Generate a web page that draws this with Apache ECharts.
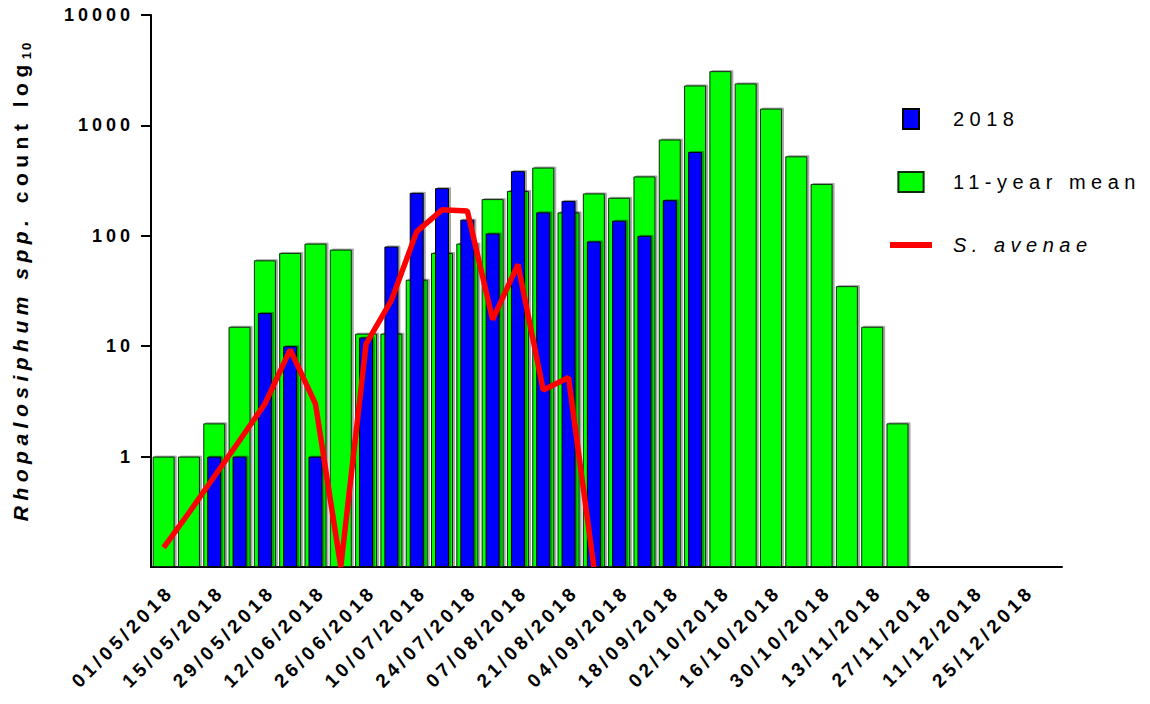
<!DOCTYPE html>
<html>
<head>
<meta charset="utf-8">
<script src="https://cdn.jsdelivr.net/npm/echarts@6/dist/echarts.min.js"></script>
<style>
html, body { margin: 0; padding: 0; background: #fff; }
#main { width: 1150px; height: 704px; }
/* wide letter spacing as in the original figure */
#main text[style*="13px"] { letter-spacing: 2px; }
#main text[style*="18px"] { letter-spacing: 4px; }
#main text[style*="19px"] { letter-spacing: 4px; }
#main text[style*="20px"] { letter-spacing: 5.5px; }
#main text[style*="21px"] { letter-spacing: 5.5px; }
</style>
</head>
<body>
<div id="main"></div>
<script>
// weekly trap dates
var weeks = ['01/05/2018', '08/05/2018', '15/05/2018', '22/05/2018', '29/05/2018', '05/06/2018',
	'12/06/2018', '19/06/2018', '26/06/2018', '03/07/2018', '10/07/2018', '17/07/2018',
	'24/07/2018', '31/07/2018', '07/08/2018', '14/08/2018', '21/08/2018', '28/08/2018',
	'04/09/2018', '11/09/2018', '18/09/2018', '25/09/2018', '02/10/2018', '09/10/2018',
	'16/10/2018', '23/10/2018', '30/10/2018', '06/11/2018', '13/11/2018', '20/11/2018',
	'27/11/2018', '04/12/2018', '11/12/2018', '18/12/2018', '25/12/2018', '01/01/2019'];

var mean11 = [1, 1, 2, 15, 60, 70, 85, 75, 13, 13, 40, 70, 85, 215, 255, 415, 163, 242,
	221, 345, 745, 2300, 3100, 2400, 1420, 525, 295, 35, 15, 2];

var count2018 = [null, null, 1, 1, 20, 10, 1, null, 12, 80, 245, 270, 140, 105, 385, 163,
	207, 89, 137, 100, 210, 575];

var avenae = [0.15, 0.31, 0.66, 1.4, 3, 9.3, 3, 0.1, 10.5, 26, 109, 172, 168, 17.4, 55,
	4, 5.2, 0.1];

var fontName = 'Liberation Sans';

// text widths have to include the css letter spacing
var spacing = { 13: 2, 18: 4, 19: 4, 20: 5.5, 21: 5.5 };
var measureCtx = document.createElement('canvas').getContext('2d');
echarts.setPlatformAPI({
	measureText: function(text, font) {
		measureCtx.font = font || '12px sans-serif';
		var w = measureCtx.measureText(text).width;
		var m = /(\d+)px/.exec(font || '');
		var s = m ? (spacing[+m[1]] || 0) : 0;
		if (text === '\u56fd') {
			s = 0;
		}
		return { width: w + text.length * s };
	}
});

var chart = echarts.init(document.getElementById('main'), null, { renderer: 'svg' });

var option = {
	animation: false,
	backgroundColor: '#fff',
	textStyle: { fontFamily: fontName },
	grid: {
		left: 151,
		right: 88,
		top: 15,
		bottom: 137,
		outerBoundsMode: 'none'
	},
	legend: {
		orient: 'vertical',
		left: 890,
		top: 106,
		padding: 0,
		itemWidth: 42,
		itemHeight: 20,
		itemGap: 37,
		selectedMode: false,
		textStyle: {
			fontFamily: fontName,
			fontSize: 20,
			color: '#000',
			lineHeight: 20,
			padding: [6, 0, 0, 16]
		},
		data: [
			{ name: '2018', icon: 'path://M0,0H16V20H0Z' },
			{ name: '11-year mean', icon: 'path://M0,0H24V19H0Z' },
			{ name: 'S. avenae', icon: 'path://M0,0H42V6H0Z', textStyle: { fontStyle: 'italic' } }
		]
	},
	xAxis: [{
		type: 'category',
		data: weeks,
		boundaryGap: true,
		axisLine: { lineStyle: { color: '#000', width: 2 } },
		axisTick: {
			alignWithLabel: true,
			interval: 1,
			length: 9,
			lineStyle: { color: '#000', width: 2 }
		},
		axisLabel: {
			interval: 1,
			rotate: 45,
			verticalAlign: 'top',
			margin: 15,
			color: '#000',
			fontFamily: fontName,
			fontSize: 19,
			fontWeight: 'bold'
		},
		splitLine: { show: false }
	}, {
		type: 'category',
		data: weeks,
		show: false
	}],
	yAxis: {
		type: 'log',
		logBase: 10,
		min: 0.1,
		max: 10000,
		startValue: 0.1,
		name: '{it|Rhopalosiphum spp.} count log{sub|10}',
		nameLocation: 'middle',
		nameRotate: 90,
		nameGap: 118,
		nameTextStyle: {
			color: '#000',
			fontFamily: fontName,
			fontSize: 21,
			fontWeight: 'bold',
			lineHeight: 26,
			padding: [0, 0, 0, 20],
			rich: {
				it: { fontFamily: fontName, fontSize: 21, fontWeight: 'bold', fontStyle: 'italic', color: '#000' },
				sub: { fontFamily: fontName, fontSize: 13, fontWeight: 'bold', color: '#000', lineHeight: 13, verticalAlign: 'bottom' }
			}
		},
		axisLine: { show: true, lineStyle: { color: '#000', width: 2 } },
		axisTick: { show: true, length: 10, lineStyle: { color: '#000', width: 2 } },
		axisLabel: {
			showMinLabel: false,
			margin: 17,
			color: '#000',
			fontFamily: fontName,
			fontSize: 18,
			fontWeight: 'bold',
			formatter: function(v) {
				return v >= 1 ? String(Math.round(v)) : '';
			}
		},
		splitLine: { show: false },
		minorTick: { show: false }
	},
	series: [{
		name: '11-year mean',
		type: 'bar',
		xAxisIndex: 0,
		data: mean11,
		barWidth: 22,
		itemStyle: {
			color: '#00ff00',
			borderColor: '#0b2b0b',
			borderWidth: 1,
			shadowColor: 'rgba(0,0,0,0.35)',
			shadowOffsetX: 2,
			shadowOffsetY: -1
		}
	}, {
		name: '2018',
		type: 'bar',
		xAxisIndex: 1,
		data: count2018,
		barWidth: 14,
		itemStyle: {
			color: '#0000ff',
			borderColor: '#000',
			borderWidth: 1,
			shadowColor: 'rgba(0,0,0,0.35)',
			shadowOffsetX: 2,
			shadowOffsetY: -1
		}
	}, {
		name: 'S. avenae',
		type: 'line',
		xAxisIndex: 0,
		data: avenae,
		symbol: 'none',
		z: 5,
		itemStyle: { color: '#ff0000' },
		lineStyle: { color: '#ff0000', width: 5.5 }
	}]
};

chart.setOption(option);
</script>
</body>
</html>
